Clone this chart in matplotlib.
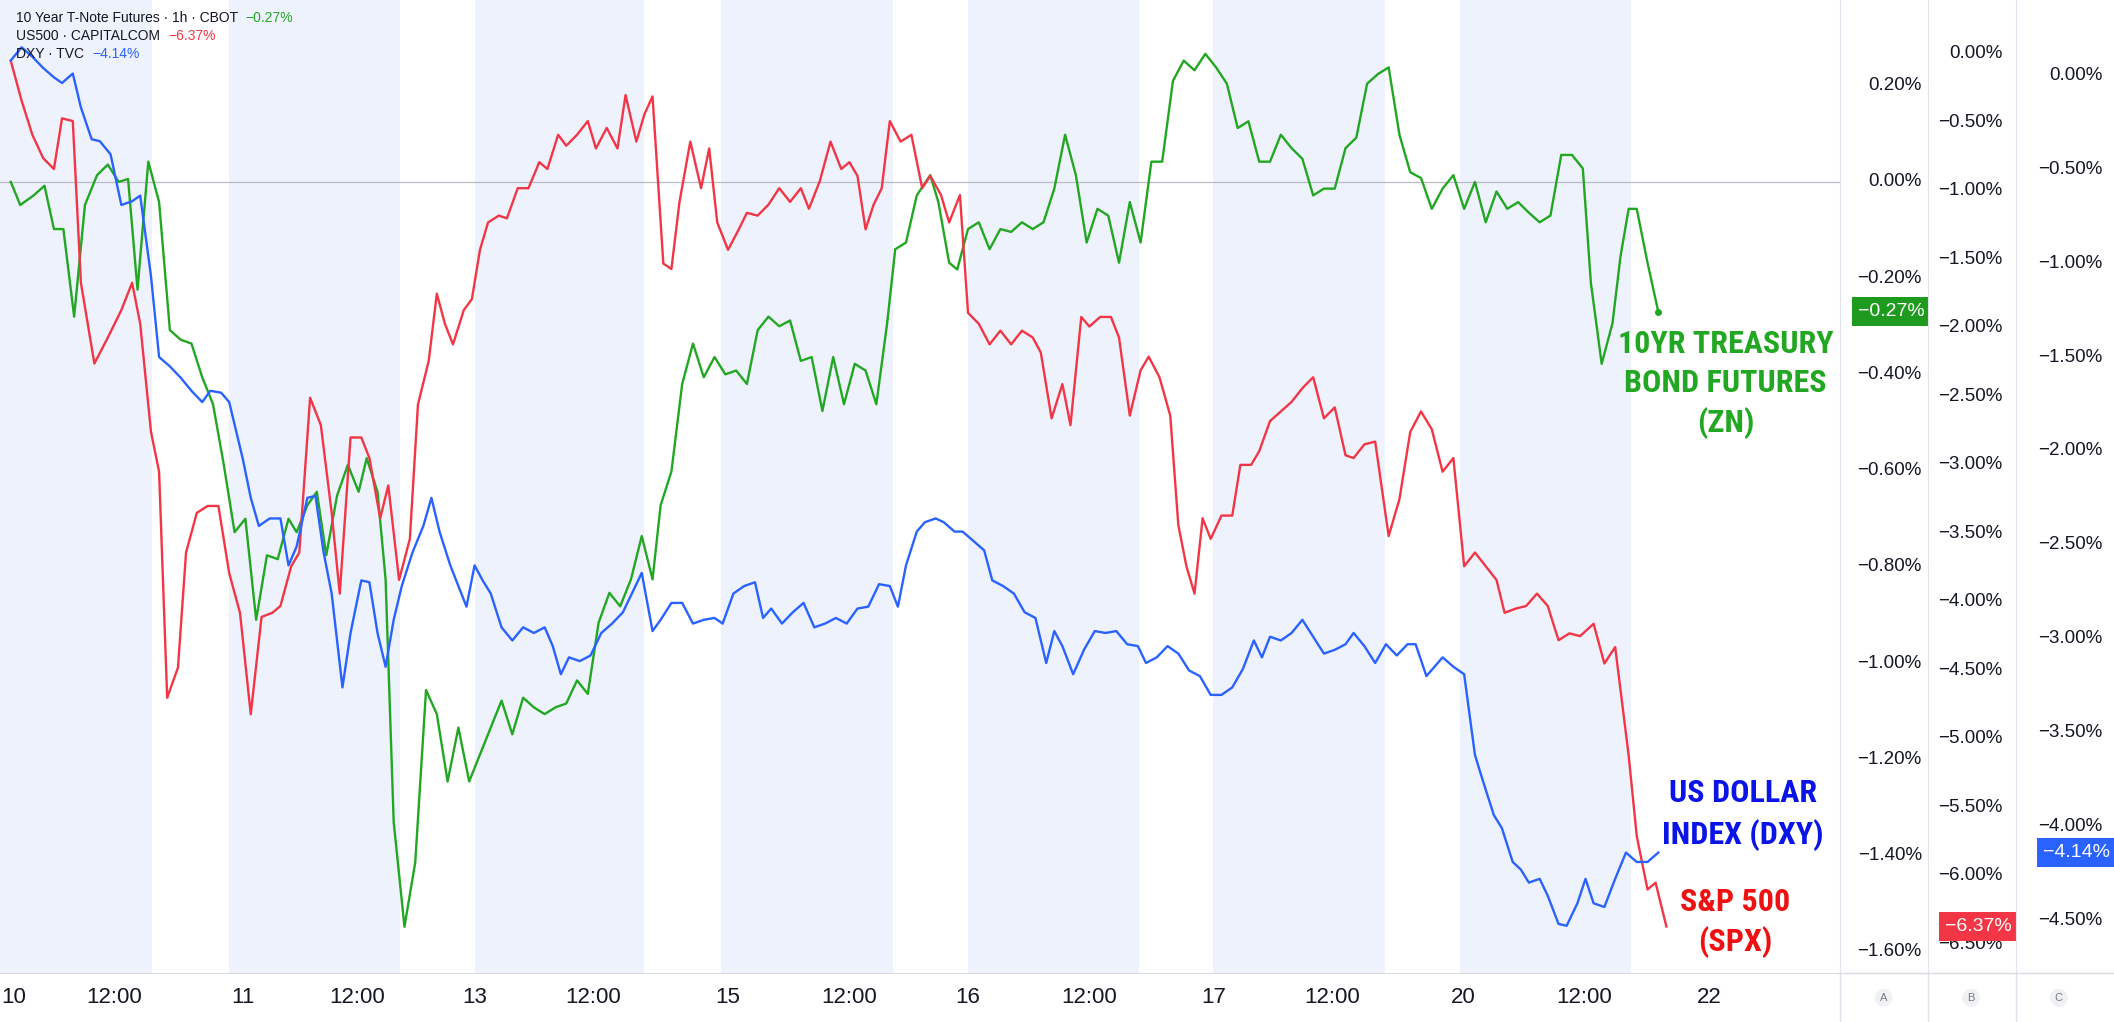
import matplotlib
matplotlib.use("Agg")
import matplotlib.pyplot as plt
from matplotlib import font_manager as fm

names = {f.name for f in fm.fontManager.ttflist}
NARROW = "Liberation Sans"
for cand in ("Liberation Sans Narrow", "Roboto Condensed", "Open Sans Condensed", "DejaVu Sans Condensed"):
    if cand in names:
        NARROW = cand
        break
plt.rcParams["font.family"] = "Liberation Sans" if "Liberation Sans" in names else "DejaVu Sans"

# ---------------- data ----------------
# time axis in chart units (hourly bar positions)
zn_t = [8,15,25,33,40,47,55,63,72,80,88,95,102,110,118,126,134,142,150,158,166,174,182,190,198,206,214,220,228,235,242,250,258,266,272,280,286,292,300,308,316,324,332,340,348,356,364,372,380,388,396,404,412,420,428,436,444,452,460,468,476,484,490,498,506,514,522,530,538,546,554,562,570,578,586,594,602,610,618,626,634,642,650,658,664,672,680,690,696,704,710,718,726,734,742,750,758,766,774,782,790,798,806,814,822,830,838,846,854,862,870,878,886,894,902,910,918,926,934,942,950,958,966,974,982,990,998,1006,1014,1022,1030,1038,1046,1054,1062,1070,1078,1086,1094,1102,1110,1118,1126,1134,1142,1150,1158,1166,1174,1180,1188,1196,1202,1208,1214,1222,1230]
zn_v = [0,-0.048,-0.028,-0.008,-0.098,-0.098,-0.28,-0.048,0.014,0.036,0,0.006,-0.224,0.042,-0.042,-0.308,-0.328,-0.336,-0.406,-0.462,-0.588,-0.728,-0.700,-0.91,-0.776,-0.784,-0.70,-0.728,-0.672,-0.644,-0.776,-0.652,-0.588,-0.644,-0.574,-0.644,-0.826,-1.33,-1.548,-1.414,-1.056,-1.106,-1.246,-1.134,-1.246,-1.19,-1.134,-1.078,-1.148,-1.072,-1.092,-1.106,-1.092,-1.084,-1.036,-1.064,-0.916,-0.854,-0.882,-0.826,-0.736,-0.826,-0.672,-0.602,-0.42,-0.336,-0.406,-0.364,-0.4,-0.392,-0.42,-0.308,-0.28,-0.3,-0.288,-0.372,-0.364,-0.476,-0.364,-0.462,-0.378,-0.392,-0.462,-0.294,-0.14,-0.126,-0.028,0.014,-0.042,-0.168,-0.182,-0.098,-0.084,-0.14,-0.098,-0.104,-0.084,-0.098,-0.084,-0.014,0.098,0.014,-0.126,-0.056,-0.07,-0.168,-0.042,-0.126,0.042,0.042,0.21,0.252,0.232,0.266,0.238,0.204,0.112,0.126,0.042,0.042,0.098,0.07,0.048,-0.028,-0.014,-0.014,0.07,0.092,0.204,0.224,0.238,0.098,0.02,0.008,-0.056,-0.014,0.014,-0.056,0,-0.084,-0.02,-0.056,-0.042,-0.064,-0.084,-0.07,0.056,0.056,0.028,-0.21,-0.378,-0.294,-0.154,-0.056,-0.056,-0.168,-0.27]

spx_t = [8,16,24,32,40,46,54,60,70,80,90,98,104,112,118,124,132,138,146,154,162,170,178,186,194,202,208,216,222,230,238,246,252,260,268,274,282,288,296,304,310,318,324,330,336,344,350,356,362,370,376,384,392,400,406,414,420,428,436,442,450,458,464,472,478,484,492,498,504,512,520,526,532,540,548,554,562,570,578,586,594,600,608,616,624,630,636,642,648,654,660,668,676,684,690,698,704,712,718,726,734,742,750,758,766,772,780,788,794,802,808,816,824,830,838,846,852,860,868,874,880,886,892,898,906,914,920,928,934,942,950,958,966,974,982,990,998,1004,1012,1020,1030,1038,1046,1054,1062,1070,1078,1086,1094,1102,1110,1116,1124,1132,1140,1148,1156,1164,1172,1182,1190,1198,1208,1214,1222,1228,1236]
spx_v = [-0.05,-0.34,-0.59,-0.76,-0.84,-0.47,-0.49,-1.67,-2.26,-2.07,-1.87,-1.67,-1.97,-2.76,-3.05,-4.70,-4.48,-3.64,-3.35,-3.30,-3.30,-3.79,-4.08,-4.82,-4.11,-4.08,-4.03,-3.74,-3.64,-2.51,-2.71,-3.35,-3.94,-2.80,-2.80,-2.95,-3.39,-3.15,-3.84,-3.54,-2.56,-2.24,-1.75,-1.97,-2.12,-1.87,-1.79,-1.43,-1.23,-1.18,-1.20,-0.98,-0.98,-0.79,-0.84,-0.59,-0.67,-0.59,-0.49,-0.69,-0.54,-0.69,-0.30,-0.64,-0.44,-0.31,-1.53,-1.57,-1.08,-0.64,-0.98,-0.69,-1.23,-1.43,-1.28,-1.16,-1.18,-1.10,-0.98,-1.08,-0.98,-1.13,-0.93,-0.64,-0.84,-0.79,-0.89,-1.28,-1.10,-0.98,-0.49,-0.64,-0.59,-0.98,-0.89,-1.03,-1.23,-1.03,-1.89,-1.97,-2.12,-2.02,-2.12,-2.02,-2.07,-2.18,-2.66,-2.41,-2.71,-1.92,-1.99,-1.92,-1.92,-2.07,-2.64,-2.31,-2.21,-2.36,-2.64,-3.44,-3.74,-3.94,-3.39,-3.54,-3.37,-3.37,-3.00,-3.00,-2.90,-2.68,-2.61,-2.54,-2.44,-2.36,-2.66,-2.58,-2.93,-2.95,-2.85,-2.83,-3.52,-3.25,-2.76,-2.61,-2.74,-3.05,-2.95,-3.74,-3.64,-3.74,-3.84,-4.08,-4.05,-4.03,-3.94,-4.03,-4.28,-4.23,-4.25,-4.16,-4.45,-4.33,-5.12,-5.71,-6.10,-6.05,-6.37]

dxy_t = [8,16,24,32,40,46,54,60,68,74,82,90,98,104,112,118,126,134,142,150,156,164,170,180,186,192,200,208,214,220,228,234,240,246,254,260,268,274,280,286,292,298,306,314,320,326,334,340,346,352,358,364,372,380,388,396,404,410,416,422,430,438,446,454,462,470,476,484,490,498,506,514,522,530,536,544,552,560,566,572,580,588,596,604,612,620,628,636,644,652,660,666,672,680,686,694,700,708,714,722,730,736,744,752,760,768,776,782,788,796,804,812,820,828,836,844,850,858,866,874,882,890,898,906,914,922,930,936,942,950,958,966,974,982,990,998,1004,1012,1020,1028,1036,1044,1050,1058,1064,1070,1078,1086,1094,1100,1108,1114,1122,1128,1134,1142,1148,1156,1162,1170,1176,1182,1190,1198,1206,1214,1222,1230]
dxy_v = [0.08,0.15,0.10,0.04,-0.01,-0.04,0.01,-0.17,-0.34,-0.35,-0.42,-0.69,-0.67,-0.64,-1.07,-1.50,-1.55,-1.61,-1.68,-1.74,-1.68,-1.69,-1.74,-2.04,-2.25,-2.40,-2.36,-2.36,-2.61,-2.51,-2.25,-2.24,-2.54,-2.76,-3.26,-2.97,-2.69,-2.70,-2.97,-3.15,-2.90,-2.72,-2.54,-2.40,-2.25,-2.43,-2.61,-2.72,-2.83,-2.61,-2.69,-2.76,-2.94,-3.01,-2.94,-2.97,-2.94,-3.04,-3.19,-3.10,-3.12,-3.09,-2.97,-2.92,-2.86,-2.74,-2.65,-2.96,-2.90,-2.81,-2.81,-2.92,-2.90,-2.89,-2.92,-2.76,-2.72,-2.70,-2.89,-2.84,-2.92,-2.86,-2.81,-2.94,-2.92,-2.89,-2.92,-2.84,-2.83,-2.71,-2.72,-2.83,-2.61,-2.43,-2.38,-2.36,-2.38,-2.43,-2.43,-2.48,-2.53,-2.69,-2.72,-2.76,-2.86,-2.89,-3.13,-2.96,-3.04,-3.19,-3.06,-2.96,-2.97,-2.96,-3.03,-3.04,-3.13,-3.10,-3.04,-3.08,-3.17,-3.20,-3.30,-3.30,-3.26,-3.16,-3.01,-3.10,-2.99,-3.01,-2.97,-2.90,-2.99,-3.08,-3.06,-3.03,-2.97,-3.04,-3.13,-3.03,-3.09,-3.03,-3.03,-3.20,-3.15,-3.10,-3.15,-3.19,-3.62,-3.76,-3.94,-4.01,-4.19,-4.23,-4.30,-4.28,-4.37,-4.52,-4.53,-4.41,-4.28,-4.41,-4.43,-4.28,-4.14,-4.19,-4.19,-4.14]

tick_pos = [10, 85, 180, 265, 352, 440, 540, 630, 718, 808, 900, 988, 1085, 1175, 1268]
tick_lab = ["10", "12:00", "11", "12:00", "13", "12:00", "15", "12:00", "16", "12:00", "17", "12:00", "20", "12:00", "22"]
sessions = [(0, 113), (170, 297), (352, 478), (535, 662), (718, 845), (900, 1027), (1083, 1210)]

zn_ticks = [0.20, 0.00, -0.20, -0.40, -0.60, -0.80, -1.00, -1.20, -1.40, -1.60]
spx_ticks = [0.0, -0.5, -1.0, -1.5, -2.0, -2.5, -3.0, -3.5, -4.0, -4.5, -5.0, -5.5, -6.0, -6.5]
dxy_ticks = [0.0, -0.5, -1.0, -1.5, -2.0, -2.5, -3.0, -3.5, -4.0, -4.5]

GREEN, RED, BLUE = "#22a722", "#f23645", "#2962ff"

W, H = 1568.0, 758.0
def fx(x): return x / W
def fy(y): return 1 - y / H

fig = plt.figure(figsize=(21.14, 10.22), dpi=100)
fig.patch.set_facecolor("white")

BOT = 722
main = fig.add_axes([0, fy(BOT), fx(1365), 1 - fy(BOT)])
zn_ax = main
spx_ax = main.twinx()
dxy_ax = main.twinx()
zn_ax.set_ylim(-1.645, 0.378)
spx_ax.set_ylim(-6.713, 0.394)
dxy_ax.set_ylim(-4.784, 0.402)
for a in (zn_ax, spx_ax, dxy_ax):
    a.set_xlim(0, 1365)
    a.set_yticks([])
    for s in a.spines.values():
        s.set_visible(False)

for a, b in sessions:
    zn_ax.axvspan(a, b, color="#eef2fd", lw=0, zorder=0)
zn_ax.axhline(0, color="#b8bcc6", lw=0.9, zorder=1)

def trim(t, v):
    n = min(len(t), len(v))
    return t[:n], v[:n]

t, v = trim(zn_t, zn_v); zn_ax.plot(t, v, color=GREEN, lw=1.7, zorder=3)
zn_ax.plot([t[-1]], [v[-1]], "o", color=GREEN, ms=4, zorder=4)
t, v = trim(spx_t, spx_v); spx_ax.plot(t, v, color=RED, lw=1.7, zorder=3)
t, v = trim(dxy_t, dxy_v); dxy_ax.plot(t, v, color=BLUE, lw=1.7, zorder=3)

zn_ax.set_xticks(tick_pos)
zn_ax.set_xticklabels(tick_lab, fontsize=16, color="#131722")
zn_ax.tick_params(axis="x", length=0, pad=10)
zn_ax.spines["bottom"].set_visible(True)
zn_ax.spines["bottom"].set_color("#d9dbe0")

# price scales
def scale(x0, x1, ylim, ticks, txt_x, badge_val, badge_col):
    ax = fig.add_axes([fx(x0), fy(BOT), fx(x1 - x0), 1 - fy(BOT)])
    ax.set_xlim(0, 1); ax.set_ylim(*ylim)
    ax.set_xticks([]); ax.set_yticks([])
    for k, s in ax.spines.items():
        s.set_visible(k == "left")
    ax.spines["left"].set_color("#e0e3eb")
    for tk in ticks:
        ax.text(txt_x, tk, "\u2212%.2f%%" % abs(tk) if tk < 0 else "%.2f%%" % tk,
                ha="right", va="center", fontsize=13.5, color="#131722")
    ax.text(0.96, badge_val, "\u2212%.2f%%" % abs(badge_val), ha="right", va="center",
            fontsize=14, color="white", zorder=5,
            bbox=dict(boxstyle="square,pad=0.3", fc=badge_col, ec="none"))
    return ax

scale(1365, 1430, (-1.645, 0.378), zn_ticks, 0.93, -0.27, "#1e9b1e")
scale(1430, 1495, (-6.713, 0.394), spx_ticks, 0.85, -6.37, RED)
scale(1495, 1568, (-4.784, 0.402), dxy_ticks, 0.88, -4.14, "#2962ff")
for xx in (1365, 1430, 1495):
    fig.add_artist(plt.Line2D([fx(xx), fx(xx)], [0, fy(BOT)], color="#e0e3eb", lw=1))
fig.add_artist(plt.Line2D([fx(1365), 1], [fy(BOT), fy(BOT)], color="#d9dbe0", lw=1))
for xx, lab in ((1397, "A"), (1462, "B"), (1527, "C")):
    fig.text(fx(xx), fy(740), lab, ha="center", va="center", fontsize=8, color="#787b86",
             bbox=dict(boxstyle="circle,pad=0.35", fc="#f0f1f4", ec="none"))

# legend
leg = [("10 Year T-Note Futures \u00b7 1h \u00b7 CBOT", "\u22120.27%", GREEN),
       ("US500 \u00b7 CAPITALCOM", "\u22126.37%", RED),
       ("DXY \u00b7 TVC", "\u22124.14%", BLUE)]
for i, (name, val, col) in enumerate(leg):
    y = fy(13 + 13.5 * i)
    t1 = fig.text(fx(12), y, name + "  ", fontsize=10, color="#131722", va="center")
    fig.canvas.draw()
    bb = t1.get_window_extent()
    fig.text(bb.x1 / fig.bbox.width, y, val, fontsize=10, color=col, va="center")

# annotations
asize = 23 if NARROW != "Liberation Sans" else 20
for txt, x, y, col in (("10YR TREASURY", 1280, 255, GREEN), ("BOND FUTURES", 1280, 284, GREEN),
                       ("(ZN)", 1280, 314, GREEN),
                       ("US DOLLAR", 1293, 588, "#0a14e6"), ("INDEX (DXY)", 1293, 619, "#0a14e6"),
                       ("S&P 500", 1287, 669, "#ee1111"), ("(SPX)", 1287, 699, "#ee1111")):
    fig.text(fx(x), fy(y), txt, ha="center", va="center", fontsize=asize, fontweight="bold",
             color=col, family=NARROW)

fig.savefig("out.png", dpi=100, facecolor="white")
